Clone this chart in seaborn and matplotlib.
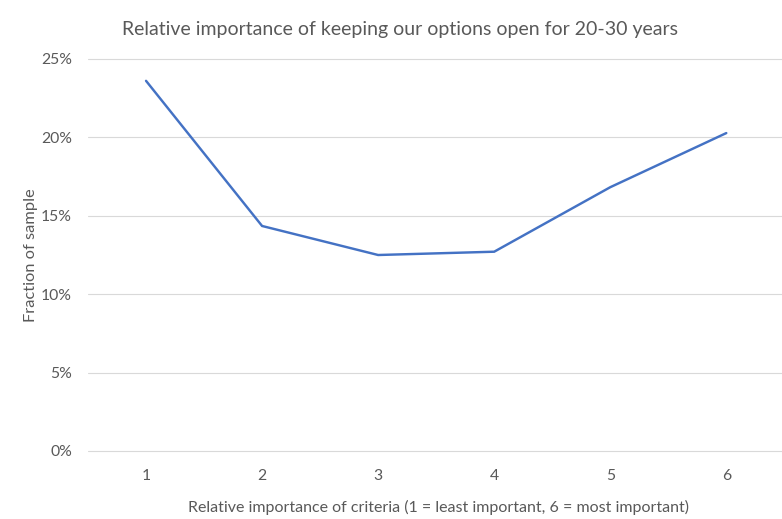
import matplotlib
matplotlib.use("Agg")
import matplotlib.pyplot as plt
from matplotlib.ticker import PercentFormatter
import pandas as pd
import seaborn as sns

# Survey results: share of respondents giving each importance rating
ratings = [1, 2, 3, 4, 5, 6]
fractions = [0.2359, 0.1434, 0.1249, 0.1270, 0.1681, 0.2026]
y_ticks = [0.0, 0.05, 0.10, 0.15, 0.20, 0.25]

title = "Relative importance of keeping our options open for 20-30 years"
x_label = "Relative importance of criteria (1 = least important, 6 = most important)"
y_label = "Fraction of sample"

df = pd.DataFrame({"rating": ratings, "fraction": fractions})

sns.set_theme(style="white")
plt.rcParams["font.family"] = ["Lato", "DejaVu Sans"]

W, H = 782, 519
fig = plt.figure(figsize=(W / 100, H / 100), dpi=100)
fig.patch.set_facecolor("white")
ax = fig.add_axes([88 / W, (H - 451) / H, 694 / W, (451 - 58.7) / H])

sns.lineplot(data=df, x="rating", y="fraction", ax=ax, color="#4472C4",
             linewidth=1.75, solid_joinstyle="miter")

text_col = "#595959"
ax.set_xlim(0.5, 6.48)
ax.set_ylim(0, 0.25)
ax.set_xticks(ratings)
ax.set_yticks(y_ticks)
ax.yaxis.set_major_formatter(PercentFormatter(1.0, decimals=0))
ax.tick_params(axis="both", length=0, labelsize=11.3, labelcolor=text_col)
ax.tick_params(axis="y", pad=11.5)
ax.tick_params(axis="x", pad=13)

for y in y_ticks:
    ax.axhline(y, color="#D9D9D9", linewidth=0.8, zorder=0, clip_on=False)

for s in ax.spines.values():
    s.set_visible(False)

ax.set_xlabel(x_label, fontsize=11.5, color=text_col)
ax.xaxis.set_label_coords(0.505, -0.125)
ax.set_ylabel(y_label, fontsize=11.8, color=text_col)
ax.yaxis.set_label_coords(-0.072, 0.5)
fig.text(400 / W, 1 - 29 / H, title, ha="center", va="center",
         fontsize=14, color=text_col)

fig.savefig("out.png", dpi=100, facecolor="white")
